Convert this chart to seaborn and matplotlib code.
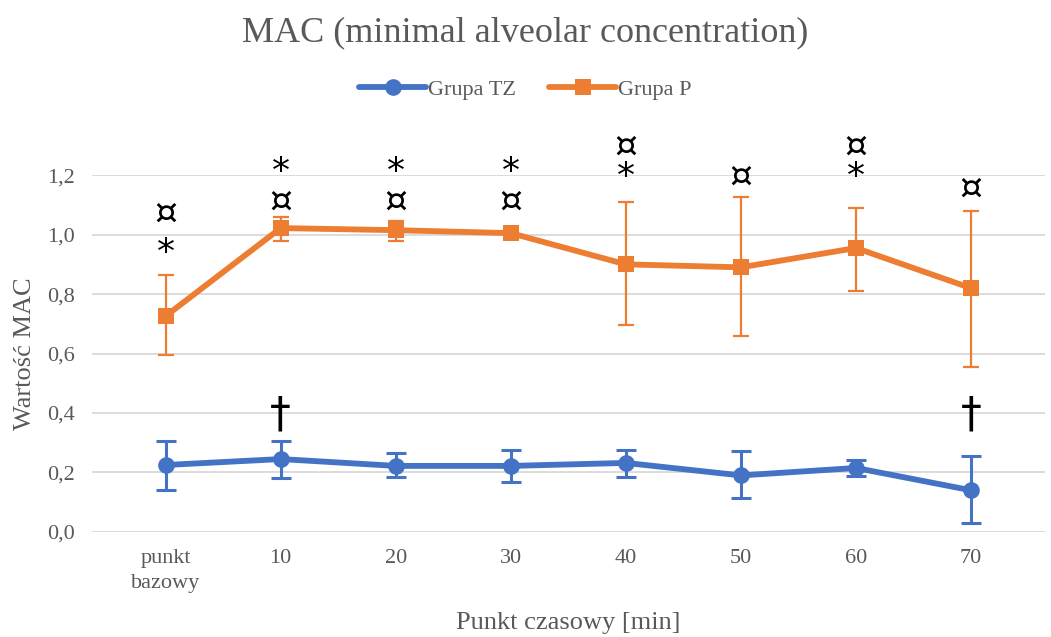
import numpy as np
import pandas as pd
import matplotlib
matplotlib.use("Agg")
import matplotlib.pyplot as plt
import seaborn as sns

# data
punkty = ["punkt\nbazowy", "10", "20", "30", "40", "50", "60", "70"]

tz_mean = [0.225, 0.245, 0.222, 0.222, 0.232, 0.190, 0.215, 0.140]
tz_low = [0.141, 0.180, 0.185, 0.168, 0.185, 0.114, 0.188, 0.030]
tz_high = [0.306, 0.306, 0.265, 0.276, 0.276, 0.272, 0.242, 0.255]

p_mean = [0.726, 1.022, 1.015, 1.005, 0.900, 0.890, 0.955, 0.820]
p_low = [0.595, 0.980, 0.980, 0.995, 0.696, 0.659, 0.810, 0.555]
p_high = [0.864, 1.059, 1.045, 1.012, 1.109, 1.126, 1.089, 1.079]

# significance markers above Grupa P (one stack per point) and daggers above Grupa TZ
p_marks = ["¤\n*", "*\n¤", "*\n¤", "*\n¤", "¤\n*", "¤", "¤\n*", "¤"]
p_marks_y = [1.005, 1.16, 1.16, 1.16, 1.245, 1.195, 1.245, 1.155]
p_marks_gap = [1.2, 0.85, 0.85, 0.85, 0.85, 1.0, 0.85, 1.0]
dagger_idx = [1, 7]
dagger_y = 0.395

blue = "#4472C4"
orange = "#ED7D31"
grey = "#595959"

df = pd.DataFrame({
    "x": list(range(len(punkty))) * 2,
    "MAC": tz_mean + p_mean,
    "Grupa": ["Grupa TZ"] * len(punkty) + ["Grupa P"] * len(punkty),
})

sns.set_style("white")
plt.rcParams["font.family"] = ["Liberation Serif", "DejaVu Serif"]

fig = plt.figure(figsize=(10.51, 6.37), dpi=100)
ax = fig.add_axes([0.0875, 0.165, 0.9065, 0.56])

x = np.arange(len(punkty))
ax.errorbar(x, tz_mean, yerr=[np.array(tz_mean) - tz_low, np.array(tz_high) - tz_mean],
            fmt="none", ecolor=blue, elinewidth=2.2, capsize=7, capthick=2.2, zorder=3)
ax.errorbar(x, p_mean, yerr=[np.array(p_mean) - p_low, np.array(p_high) - p_mean],
            fmt="none", ecolor=orange, elinewidth=1.6, capsize=6, capthick=1.6, zorder=3)

sns.lineplot(data=df, x="x", y="MAC", hue="Grupa", style="Grupa",
             palette={"Grupa TZ": blue, "Grupa P": orange},
             markers={"Grupa TZ": "o", "Grupa P": "s"},
             dashes=False, linewidth=4.2, markersize=12, markeredgewidth=0,
             ax=ax, zorder=4)

for i, (m, yy, gap) in enumerate(zip(p_marks, p_marks_y, p_marks_gap)):
    ax.text(i, yy, m, ha="center", va="center", multialignment="center",
            linespacing=gap, color="black", fontsize=26,
            family="DejaVu Sans", clip_on=False)
for i in dagger_idx:
    ax.text(i, dagger_y, "†", ha="center", va="center", fontsize=30,
            color="black", family="DejaVu Sans")

ax.set_xlim(-0.64, 7.64)
ax.set_ylim(0, 1.2)
ax.set_yticks(np.arange(0, 1.21, 0.2))
ax.set_yticklabels([f"{v:.1f}".replace(".", ",") for v in np.arange(0, 1.21, 0.2)])
ax.set_xticks(x)
ax.set_xticklabels(punkty, linespacing=1.45)
ax.tick_params(axis="both", length=0, labelsize=16, labelcolor=grey, pad=12)
ax.grid(axis="y", color="#D9D9D9", linewidth=1.3)
ax.set_axisbelow(True)
for s in ax.spines.values():
    s.set_visible(False)

ax.set_xlabel("Punkt czasowy [min]", fontsize=19, color=grey, labelpad=14)
ax.set_ylabel("Wartość MAC", fontsize=19, color=grey, labelpad=8)

handles, labels = ax.get_legend_handles_labels()
ax.legend(handles, labels, loc="center", ncol=2, frameon=False, fontsize=16,
          labelcolor=grey, handlelength=3, handletextpad=0.1, columnspacing=1.5,
          bbox_to_anchor=(0.5, 1 - 90 / 637), bbox_transform=fig.transFigure)

fig.suptitle("MAC (minimal alveolar concentration)", x=0.5, y=1 - 33 / 637,
             va="center", fontsize=26, color=grey)

fig.savefig("out.png", dpi=100)
